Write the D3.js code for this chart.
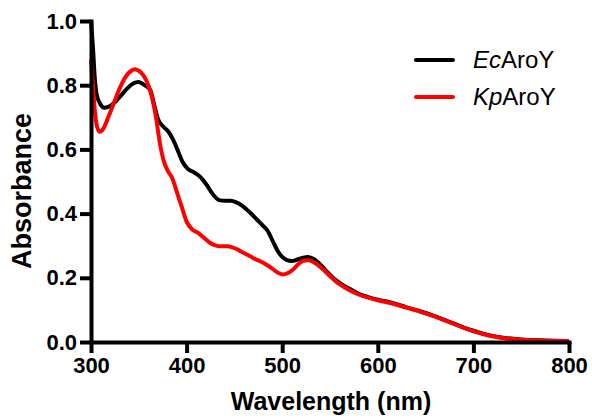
<!DOCTYPE html>
<html>
<head>
<meta charset="utf-8">
<script src="https://cdn.jsdelivr.net/npm/d3@7"></script>
<style>
  html, body { margin: 0; padding: 0; background: #fff; }
  svg { display: block; }
  text { font-family: "Liberation Sans", Arial, sans-serif; }
</style>
</head>
<body>
<svg id="chart" width="592" height="419"></svg>
<script>
// ---- data ----
const seriesNames = ["EcAroY", "KpAroY"];
const seriesColors = ["#000000", "#ff0000"];

const ecWavelength = [300, 302, 304, 306, 310, 314, 320, 326, 332, 338, 344, 350, 356, 362, 366, 370, 376, 381, 386, 391, 396, 401, 407, 412, 417, 422, 428, 434, 440, 446, 452, 458, 466, 474, 480, 485, 490, 495, 500, 505, 510, 516, 522, 527, 532, 538, 545, 553, 562, 571, 580, 590, 600, 615, 630, 645, 660, 675, 690, 700, 710, 720, 735, 750, 775, 800];
const ecAbsorbance = [1.00, 0.92, 0.82, 0.77, 0.74, 0.73, 0.735, 0.75, 0.77, 0.79, 0.805, 0.81, 0.80, 0.785, 0.74, 0.695, 0.67, 0.655, 0.63, 0.595, 0.56, 0.54, 0.53, 0.52, 0.505, 0.485, 0.458, 0.442, 0.44, 0.44, 0.435, 0.425, 0.404, 0.38, 0.362, 0.345, 0.315, 0.285, 0.265, 0.255, 0.252, 0.257, 0.263, 0.265, 0.26, 0.247, 0.225, 0.20, 0.18, 0.165, 0.15, 0.14, 0.132, 0.122, 0.108, 0.095, 0.08, 0.063, 0.045, 0.035, 0.026, 0.019, 0.012, 0.008, 0.005, 0.003];

const kpWavelength = [300, 302, 304, 306, 309, 313, 318, 324, 330, 336, 342, 346, 350, 355, 360, 364, 368, 372, 376, 380, 385, 390, 395, 400, 406, 412, 418, 424, 430, 436, 442, 448, 454, 460, 466, 472, 478, 484, 490, 496, 501, 506, 511, 516, 522, 527, 532, 536, 542, 550, 560, 570, 580, 590, 600, 615, 630, 645, 660, 675, 690, 700, 710, 720, 735, 750, 775, 800];
const kpAbsorbance = [0.88, 0.80, 0.72, 0.675, 0.655, 0.665, 0.70, 0.745, 0.79, 0.825, 0.845, 0.85, 0.845, 0.83, 0.80, 0.76, 0.70, 0.62, 0.565, 0.535, 0.51, 0.465, 0.42, 0.375, 0.35, 0.34, 0.325, 0.31, 0.301, 0.298, 0.298, 0.295, 0.287, 0.277, 0.268, 0.258, 0.25, 0.24, 0.228, 0.215, 0.21, 0.215, 0.225, 0.24, 0.253, 0.255, 0.25, 0.243, 0.228, 0.205, 0.18, 0.162, 0.148, 0.138, 0.13, 0.12, 0.107, 0.094, 0.079, 0.062, 0.044, 0.034, 0.025, 0.018, 0.011, 0.007, 0.004, 0.003];

const xTicks = [300, 400, 500, 600, 700, 800];
const yTicks = [0.0, 0.2, 0.4, 0.6, 0.8, 1.0];
const xTitle = "Wavelength (nm)";
const yTitle = "Absorbance";

// ---- layout ----
const svg = d3.select("#chart");
const x = d3.scaleLinear().domain([300, 800]).range([91, 569]);
const y = d3.scaleLinear().domain([0, 1.0]).range([342, 21]);

const series = [
  { name: seriesNames[0], color: seriesColors[0], pts: ecWavelength.map((w, i) => [w, ecAbsorbance[i]]) },
  { name: seriesNames[1], color: seriesColors[1], pts: kpWavelength.map((w, i) => [w, kpAbsorbance[i]]) }
];

const line = d3.line().x(d => x(d[0])).y(d => y(d[1])).curve(d3.curveMonotoneX);

series.forEach(s => {
  svg.append("path")
    .attr("d", line(s.pts))
    .attr("fill", "none")
    .attr("stroke", s.color)
    .attr("stroke-width", 4)
    .attr("stroke-linejoin", "round")
    .attr("stroke-linecap", "butt");
});

// axes
const xAxis = svg.append("g").attr("transform", "translate(0,342)")
  .call(d3.axisBottom(x).tickValues(xTicks).tickFormat(d3.format("d")).tickSize(11).tickSizeOuter(0).tickPadding(4));
const yAxis = svg.append("g").attr("transform", "translate(91,0)")
  .call(d3.axisLeft(y).tickValues(yTicks).tickFormat(d3.format(".1f")).tickSize(11).tickSizeOuter(0).tickPadding(3));

[xAxis, yAxis].forEach(g => {
  g.select(".domain").attr("stroke", "#000").attr("stroke-width", 4).attr("stroke-linecap", "square");
  g.selectAll(".tick line").attr("stroke", "#000").attr("stroke-width", 4);
  g.selectAll(".tick text")
    .attr("fill", "#000")
    .style("font-family", "'Liberation Sans', Arial, sans-serif")
    .style("font-weight", "bold")
    .style("font-size", "22px");
});

// titles
svg.append("text")
  .attr("x", 331).attr("y", 410)
  .attr("text-anchor", "middle")
  .style("font-weight", "bold").style("font-size", "25px")
  .text(xTitle);

svg.append("text")
  .attr("transform", "translate(31,191) rotate(-90)")
  .attr("text-anchor", "middle")
  .style("font-weight", "bold").style("font-size", "27px")
  .text(yTitle);

// legend
const legend = svg.append("g");
series.forEach((s, i) => {
  const ly = 60 + i * 37;
  legend.append("line")
    .attr("x1", 416).attr("x2", 453).attr("y1", ly).attr("y2", ly)
    .attr("stroke", s.color).attr("stroke-width", 4).attr("stroke-linecap", "round");
  const t = legend.append("text")
    .attr("x", 473).attr("y", ly + 8)
    .style("font-size", "24px").attr("fill", "#000");
  t.append("tspan").style("font-style", "italic").text(s.name.slice(0, 2));
  t.append("tspan").text(s.name.slice(2));
});
</script>
</body>
</html>
